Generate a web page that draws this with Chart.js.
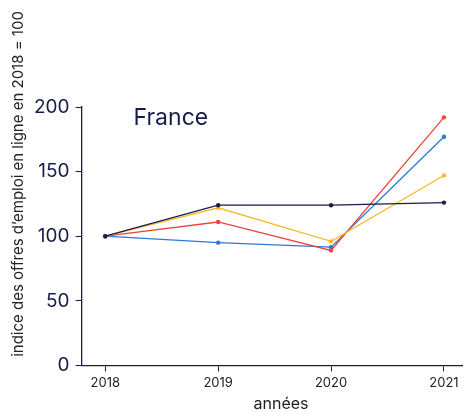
<!DOCTYPE html>
<html>
<head>
<meta charset="utf-8">
<script src="https://cdn.jsdelivr.net/npm/chart.js@4/dist/chart.umd.min.js"></script>
<style>
  html, body { margin: 0; padding: 0; background: #fff; }
  #wrap { width: 466px; height: 412px; }
</style>
</head>
<body>
<div id="wrap"><canvas id="myChart"></canvas></div>
<script>
const years = [2018, 2019, 2020, 2021];
const yTicks = [0, 50, 100, 150, 200];
const navySeries = [100, 124, 124, 126];
const yellowSeries = [100, 122, 96, 147];
const redSeries = [100, 111, 89, 192];
const blueSeries = [100, 95, 91.5, 177];

const navy = "#161d4b";

const toPoints = (vals) => vals.map((v, i) => ({ x: years[i], y: v }));

const line = (data, color) => ({
  data: toPoints(data),
  borderColor: color,
  backgroundColor: color,
  pointBackgroundColor: color,
  pointBorderWidth: 0,
  borderWidth: 1.3,
  radius: 2.2,
  tension: 0,
  fill: false,
});

// "France" label and the two axis titles, placed like in the original
const labels = {
  id: "labels",
  afterDraw(chart) {
    const c = chart.ctx;
    const area = chart.chartArea;
    c.save();
    c.font = "23px Inter";
    c.fillStyle = navy;
    c.textBaseline = "alphabetic";
    c.fillText("France", area.left + 52, area.top + 18);

    c.fillStyle = "#222";
    c.font = "16px Inter";
    c.textAlign = "center";
    c.textBaseline = "middle";
    c.fillText("années", 281, 404);

    c.font = "15px Inter";
    c.translate(18, 184);
    c.rotate(-Math.PI / 2);
    c.fillText("indice des offres d’emploi en ligne en 2018 = 100", 0, 0);
    c.restore();
  },
};

const ctx = document.getElementById("myChart").getContext("2d");

const myChart = new Chart(ctx, {
  type: "line",
  data: {
    datasets: [
      line(navySeries, navy),
      line(yellowSeries, "#fbbb28"),
      line(redSeries, "#e8473f"),
      line(blueSeries, "#2a78d6"),
    ],
  },
  options: {
    animation: false,
    responsive: true,
    maintainAspectRatio: false,
    layout: { padding: { top: 107, right: 0, left: 28, bottom: 17 } },
    plugins: {
      legend: { display: false },
      tooltip: { enabled: false },
    },
    scales: {
      x: {
        type: "linear",
        min: 2017.79,
        max: 2021.16,
        afterBuildTicks: (scale) => {
          scale.ticks = years.map((v) => ({ value: v }));
        },
        grid: {
          drawOnChartArea: false,
          drawTicks: true,
          tickLength: 6,
          color: navy,
        },
        border: { color: navy, width: 1.3 },
        ticks: {
          color: "#222",
          font: { family: "Inter", size: 13 },
          padding: 4,
          callback: (v) => String(v),
        },
      },
      y: {
        min: 0,
        max: 200,
        afterBuildTicks: (scale) => {
          scale.ticks = yTicks.map((v) => ({ value: v }));
        },
        grid: {
          drawOnChartArea: false,
          drawTicks: true,
          tickLength: 6,
          color: navy,
        },
        border: { color: navy, width: 1.3 },
        ticks: {
          color: navy,
          font: { family: "Inter", size: 19 },
          padding: 6,
        },
      },
    },
  },
  plugins: [labels],
});
</script>
</body>
</html>
